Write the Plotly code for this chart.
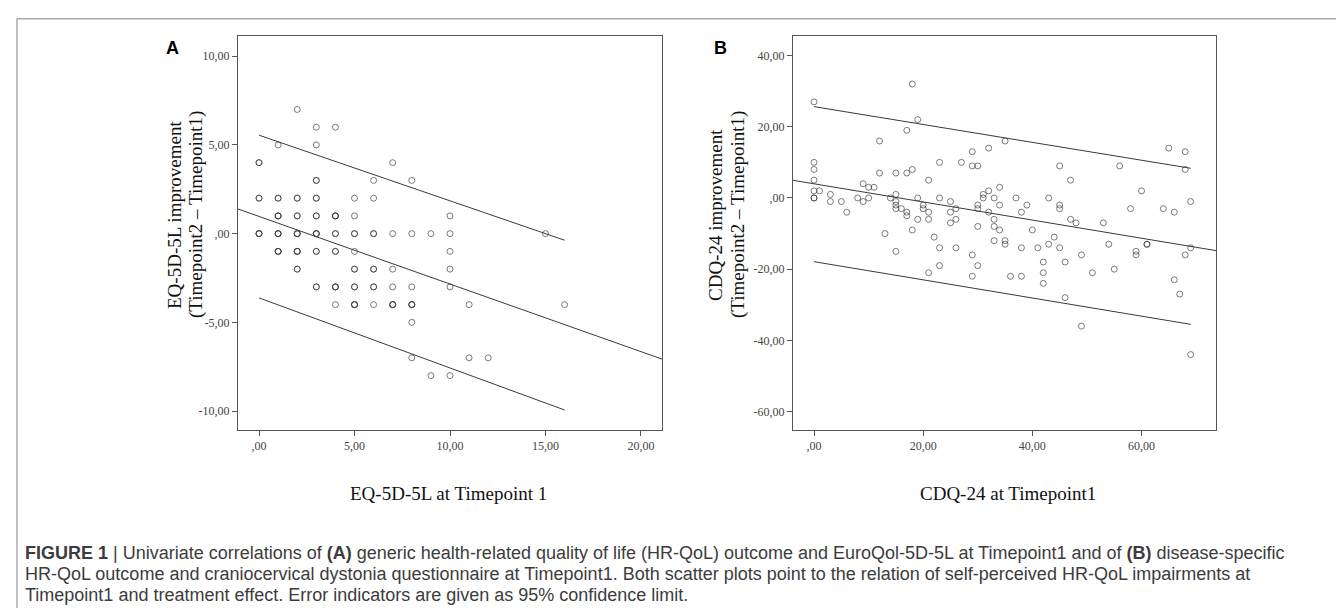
import plotly.graph_objects as go

W, H = 1344, 608

# ---------------- Panel A data (EQ-5D-5L) ----------------
# x, y, and number of overlapping patients at that point
a_x = [2, 3, 4, 1, 3, 0, 7, 3, 6, 8,
       0, 1, 2, 3, 5, 6,
       1, 2, 3, 4, 5, 10,
       0, 1, 2, 3, 4, 5, 6, 7, 8, 9, 10, 15,
       1, 2, 3, 4, 5, 10,
       2, 5, 6, 7, 10,
       3, 4, 5, 6, 7, 8, 10,
       4, 5, 6, 7, 8, 11, 16,
       8, 8, 11, 12, 9, 10]
a_y = [7, 6, 6, 5, 5, 4, 4, 3, 3, 3,
       2, 2, 2, 2, 2, 2,
       1, 1, 1, 1, 1, 1,
       0, 0, 0, 0, 0, 0, 0, 0, 0, 0, 0, 0,
       -1, -1, -1, -1, -1, -1,
       -2, -2, -2, -2, -2,
       -3, -3, -3, -3, -3, -3, -3,
       -4, -4, -4, -4, -4, -4, -4,
       -5, -7, -7, -7, -8, -8]
a_n = [1, 1, 1, 1, 1, 2, 1, 2, 1, 1,
       2, 2, 2, 2, 1, 1,
       3, 2, 2, 3, 1, 1,
       3, 3, 3, 3, 2, 2, 2, 1, 1, 1, 1, 1,
       3, 3, 2, 2, 1, 1,
       2, 2, 2, 1, 1,
       2, 3, 2, 2, 1, 1, 1,
       1, 3, 1, 3, 3, 1, 1,
       1, 1, 1, 1, 1, 1]

# Fit line and 95% limits (endpoints)
a_fit_x = [-1.1, 21.1]
a_fit_y = [1.39, -7.07]
a_up_x = [0, 16]
a_up_y = [5.55, -0.37]
a_lo_x = [0, 16]
a_lo_y = [-3.62, -9.94]

a_xticks = [0, 5, 10, 15, 20]
a_xtext = [",00", "5,00", "10,00", "15,00", "20,00"]
a_yticks = [-10, -5, 0, 5, 10]
a_ytext = ["-10,00", "-5,00", ",00", "5,00", "10,00"]

# ---------------- Panel B data (CDQ-24) ----------------
b_x = [0, 18, 19, 17, 12, 35, 32, 29, 29, 30, 23, 27, 45, 56, 0, 0, 0, 12, 15, 17,
       18, 21, 47, 9, 10, 11, 34, 0, 1, 32, 31, 31, 60, 15, 0, 0, 3, 3, 5, 6,
       8, 9, 10, 14, 15, 15, 15, 16, 17, 17, 19, 19, 20, 20, 21, 21, 23, 25, 25, 26,
       25, 26, 30, 30, 30, 32, 33, 34, 33, 33, 34, 37, 38, 39, 40, 43, 45, 45, 47, 48,
       53, 58, 13, 22, 33, 35, 35, 23, 26, 38, 41, 43, 44, 45, 54, 61, 61, 18, 15, 59,
       59, 29, 30, 23, 21, 29, 36, 38, 42, 42, 42, 46, 46, 49, 49, 51, 55, 65, 68, 68,
       64, 66, 69, 69, 68, 66, 67, 69]
b_y = [27, 32, 22, 19, 16, 16, 14, 13, 9, 9, 10, 10, 9, 9, 10, 8, 5, 7, 7, 7,
       8, 5, 5, 4, 3, 3, 3, 2, 2, 2, 1, 0, 2, 1, 0, 0, 1, -1, -1, -4,
       0, -1, 0, 0, -1, -2, -3, -3, -4, -5, 0, -6, -2, -3, -4, -6, 0, -1, -4, -3,
       -7, -6, -2, -3, -8, -4, 0, -2, -6, -8, -9, 0, -4, -2, -9, 0, -2, -3, -6, -7,
       -7, -3, -10, -11, -12, -12, -13, -14, -14, -14, -14, -13, -11, -14, -13, -13, -13, -9, -15, -15,
       -16, -16, -19, -19, -21, -22, -22, -22, -18, -21, -24, -18, -28, -16, -36, -21, -20, 14, 13, 8,
       -3, -4, -1, -14, -16, -23, -27, -44]

b_fit_x = [-3.85, 73.7]
b_fit_y = [4.96, -14.8]
b_up_x = [0, 69]
b_up_y = [25.66, 8.34]
b_lo_x = [0, 69]
b_lo_y = [-17.9, -35.5]

b_xticks = [0, 20, 40, 60]
b_xtext = [",00", "20,00", "40,00", "60,00"]
b_yticks = [-60, -40, -20, 0, 20, 40]
b_ytext = ["-60,00", "-40,00", "-20,00", ",00", "20,00", "40,00"]

# ---------------- Text ----------------
a_xtitle = "EQ-5D-5L at Timepoint 1"
a_ytitle = ["EQ-5D-5L improvement", "(Timepoint2 \u2013 Timepoint1)"]
b_xtitle = "CDQ-24 at Timepoint1"
b_ytitle = ["CDQ-24 improvement", "(Timepoint2 \u2013 Timepoint1)"]
caption = [
    "<b>FIGURE 1</b> | Univariate correlations of <b>(A)</b> generic health-related quality of life (HR-QoL) outcome and EuroQol-5D-5L at Timepoint1 and of <b>(B)</b> disease-specific",
    "HR-QoL outcome and craniocervical dystonia questionnaire at Timepoint1. Both scatter plots point to the relation of self-perceived HR-QoL impairments at",
    "Timepoint1 and treatment effect. Error indicators are given as 95% confidence limit.",
]


def fx(px):
    return px / W


def fy(py):
    return 1 - py / H


# expand overlapping points
ax_pts, ay_pts = [], []
for xv, yv, nv in zip(a_x, a_y, a_n):
    for _ in range(nv):
        ax_pts.append(xv)
        ay_pts.append(yv)

MARK = dict(symbol="circle-open", size=6, color="rgba(40,40,40,0.6)",
            line=dict(width=1, color="rgba(40,40,40,0.6)"))
LINE = dict(color="#3a3a3a", width=1)

fig = go.Figure()
fig.add_trace(go.Scatter(x=ax_pts, y=ay_pts, mode="markers", marker=MARK,
                         xaxis="x", yaxis="y", showlegend=False))
for xs, ys in [(a_fit_x, a_fit_y), (a_up_x, a_up_y), (a_lo_x, a_lo_y)]:
    fig.add_trace(go.Scatter(x=xs, y=ys, mode="lines", line=LINE,
                             xaxis="x", yaxis="y", showlegend=False))

fig.add_trace(go.Scatter(x=b_x, y=b_y, mode="markers", marker=MARK,
                         xaxis="x2", yaxis="y2", showlegend=False))
for xs, ys in [(b_fit_x, b_fit_y), (b_up_x, b_up_y), (b_lo_x, b_lo_y)]:
    fig.add_trace(go.Scatter(x=xs, y=ys, mode="lines", line=LINE,
                             xaxis="x2", yaxis="y2", showlegend=False))

TICKFONT = dict(family="Liberation Serif", size=12, color="#444")
AX = dict(showgrid=False, zeroline=False, showline=True, linecolor="#555",
          linewidth=1.2, mirror=True, ticks="outside", ticklen=5,
          tickcolor="#555", tickwidth=1, tickfont=TICKFONT, fixedrange=True)

ydom = [fy(421.7), fy(28)]
fig.update_layout(
    width=W, height=H,
    margin=dict(l=0, r=0, t=0, b=0),
    paper_bgcolor="white", plot_bgcolor="white",
    xaxis=dict(AX, domain=[fx(230), fx(654)], range=[-1.1, 21.1],
               tickvals=a_xticks, ticktext=a_xtext, anchor="y"),
    yaxis=dict(AX, domain=ydom, range=[-11.05, 11.14],
               tickvals=a_yticks, ticktext=a_ytext, anchor="x"),
    xaxis2=dict(AX, domain=[fx(785), fx(1208.3)], range=[-3.85, 73.7],
                tickvals=b_xticks, ticktext=b_xtext, anchor="y2"),
    yaxis2=dict(AX, domain=ydom, range=[-65.1, 45.5],
                tickvals=b_yticks, ticktext=b_ytext, anchor="x2"),
)

ann = []
TITLEFONT = dict(family="Liberation Serif", size=19, color="#111")
# x titles
ann.append(dict(x=fx(440), y=fy(485), text=a_xtitle, font=TITLEFONT))
ann.append(dict(x=fx(1000), y=fy(485), text=b_xtitle, font=TITLEFONT))
# y titles (two rotated lines each)
for txt, px in zip(a_ytitle, [166, 188]):
    ann.append(dict(x=fx(px), y=fy(207), text=txt, font=TITLEFONT, textangle=-90))
for txt, px in zip(b_ytitle, [707, 730]):
    ann.append(dict(x=fx(px), y=fy(207), text=txt, font=TITLEFONT, textangle=-90))
# panel letters
LETTER = dict(family="Liberation Sans", size=18, color="#000")
ann.append(dict(x=fx(164), y=fy(40), text="<b>A</b>", font=LETTER))
ann.append(dict(x=fx(712), y=fy(40), text="<b>B</b>", font=LETTER))
# caption
CAP = dict(family="Liberation Sans", size=18, color="#3c3c3c")
for txt, py in zip(caption, [545, 566, 587]):
    ann.append(dict(x=fx(15), y=fy(py), text=txt, font=CAP, xanchor="left"))

for a in ann:
    a.setdefault("xanchor", "center")
    a.update(xref="paper", yref="paper", yanchor="middle", showarrow=False)
fig.update_layout(annotations=ann)

# figure frame (top and left rules)
fig.update_layout(shapes=[
    dict(type="line", xref="paper", yref="paper", x0=fx(9), x1=1, y0=fy(10.7), y1=fy(10.7),
         line=dict(color="#aaa", width=1.5)),
    dict(type="line", xref="paper", yref="paper", x0=fx(9), x1=fx(9), y0=fy(10.7), y1=0,
         line=dict(color="#aaa", width=1.5)),
])

fig.write_html("out.html")
